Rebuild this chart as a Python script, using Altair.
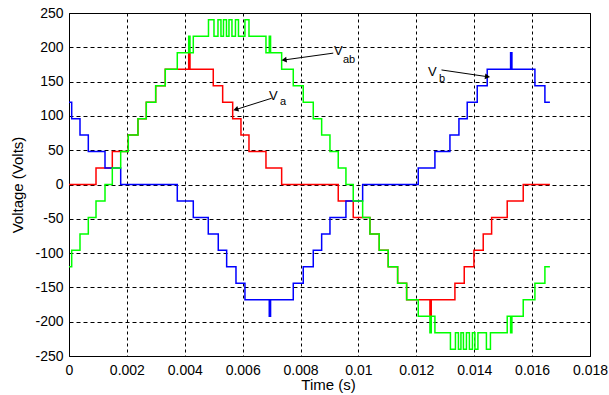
import altair as alt
import pandas as pd

# ---- Va (red) : step start times (s) and levels (V)
va_t = [0.0, 0.000933, 0.001496, 0.002048, 0.002383, 0.002670, 0.002995, 0.003326,
        0.004135, 0.004180, 0.004984, 0.005309, 0.005655, 0.005941, 0.006218, 0.006805,
        0.007347, 0.009302, 0.009820, 0.010397, 0.010718, 0.011029, 0.011354, 0.011665,
        0.012470, 0.012515, 0.013333, 0.013655, 0.013990, 0.014311, 0.014601, 0.015140,
        0.015693, 0.016615]
va_v = [0, 24, 48, 72, 96, 120, 144, 168,
        192, 168, 144, 120, 96, 72, 48, 24,
        0, -24, -48, -72, -96, -120, -144, -168,
        -192, -168, -144, -120, -96, -72, -48, -24,
        0, 0]

# ---- Vb (blue)
vb_t = [0.0, 0.000093, 0.000380, 0.000667, 0.001244, 0.001786, 0.003741, 0.004294,
        0.004812, 0.005157, 0.005447, 0.005769, 0.006079, 0.006919, 0.006964, 0.007748,
        0.008093, 0.008439, 0.008729, 0.009016, 0.009568, 0.010145, 0.012066, 0.012642,
        0.013161, 0.013472, 0.013758, 0.014104, 0.014449, 0.015257, 0.015302, 0.016097,
        0.016442, 0.016615]
vb_v = [120, 96, 72, 48, 24, 0, -24, -48,
        -72, -96, -120, -144, -168, -192, -168, -144,
        -120, -96, -72, -48, -24, 0, 24, 48,
        72, 96, 120, 144, 168, 192, 168, 144,
        120, 120]

# ---- Vab (green)
vab_t = [0.0, 0.000093, 0.000380, 0.000667, 0.000933, 0.001244, 0.001496, 0.001786,
         0.002048, 0.002383, 0.002670, 0.002995, 0.003326, 0.003741, 0.004135, 0.004180,
         0.004294, 0.004819, 0.005009, 0.005147, 0.005250, 0.005337, 0.005440, 0.005527,
         0.005630, 0.005751, 0.005855, 0.006079, 0.006218, 0.006805, 0.006919, 0.006964,
         0.007347, 0.007748, 0.008093, 0.008439, 0.008729, 0.009016, 0.009302, 0.009568,
         0.009820, 0.010145, 0.010397, 0.010718, 0.011029, 0.011354, 0.011665, 0.012066,
         0.012470, 0.012515, 0.012642, 0.013178, 0.013351, 0.013454, 0.013541, 0.013627,
         0.013731, 0.013834, 0.013938, 0.014024, 0.014128, 0.014421, 0.014560, 0.015140,
         0.015257, 0.015302, 0.015693, 0.016097, 0.016442, 0.016615]
vab_v = [-120, -96, -72, -48, -24, 0, 24, 48,
         72, 96, 120, 144, 168, 192, 216, 192,
         216, 240, 216, 240, 216, 240, 216, 240,
         216, 240, 216, 240, 216, 192, 216, 192,
         168, 144, 120, 96, 72, 48, 24, 0,
         -24, -48, -72, -96, -120, -144, -168, -192,
         -216, -192, -216, -240, -216, -240, -216, -240,
         -216, -240, -216, -240, -216, -240, -216, -192,
         -216, -192, -168, -144, -120, -120]

# ---- axis ticks
x_ticks = [0, 0.002, 0.004, 0.006, 0.008, 0.01, 0.012, 0.014, 0.016, 0.018]
y_ticks = [-250, -200, -150, -100, -50, 0, 50, 100, 150, 200, 250]

# ---- annotations (data coordinates)
lab_main = ["V", "V", "V"]
lab_sub = ["a", "ab", "b"]
lab_x = [0.00691, 0.009154, 0.0124]
lab_y = [123, 189, 158]
sub_x = [0.00729, 0.009465, 0.01278]
sub_y = [116, 177, 149]
arr_x1 = [0.0070, 0.00913, 0.01287]
arr_y1 = [125.7, 191.5, 167]
arr_x2 = [0.00579, 0.00746, 0.01443]
arr_y2 = [109.6, 181.7, 157.3]
arr_ang = [252, 262, 98]

FONT = "Liberation Sans"

# one table for all three waveforms
frames = []
for name, ts, vs in (("Va", va_t, va_v), ("Vb", vb_t, vb_v), ("Vab", vab_t, vab_v)):
    frames.append(pd.DataFrame({"t": ts, "v": vs, "s": name}))
wave = pd.concat(frames, ignore_index=True)

xs = alt.Scale(domain=[0, 0.018], nice=False, zero=False)
ys = alt.Scale(domain=[-250, 250], nice=False, zero=False)

x_axis = alt.Axis(values=x_ticks, format=".3~f", title="Time (s)", grid=True,
                  gridDash=[3, 3], gridColor="#000", gridOpacity=1, gridWidth=1,
                  ticks=False, domain=False, labelPadding=7,
                  labelOverlap=False, labelFlush=False,
                  labelFont=FONT, labelFontSize=14, labelColor="#000",
                  titleFont=FONT, titleFontSize=15, titleFontWeight="normal",
                  titleColor="#000", titleX=259, titleY=33,
                  titleBaseline="alphabetic", titleAlign="center")
y_axis = alt.Axis(values=y_ticks, format="d", labelExpr="replace(datum.label, '\u2212', '-')",
                  title="Voltage (Volts)",
                  grid=True, gridDash=[4, 3], gridColor="#000", gridOpacity=1, gridWidth=1,
                  ticks=False, domain=False, labelPadding=6,
                  labelOverlap=False, labelFlush=False, labelSeparation=0,
                  labelFont=FONT, labelFontSize=14, labelColor="#000",
                  titleFont=FONT, titleFontSize=15, titleFontWeight="normal",
                  titleColor="#000", titleX=-52, titleY=171.5, titleAngle=270,
                  titleAlign="center", titleBaseline="middle")

base = alt.Chart(wave).mark_line(interpolate="step-after", strokeWidth=1.5).encode(
    x=alt.X("t:Q", scale=xs, axis=x_axis),
    y=alt.Y("v:Q", scale=ys, axis=y_axis),
    color=alt.Color("s:N", scale=alt.Scale(domain=["Va", "Vb", "Vab"],
                                           range=["#ff0000", "#0000ff", "#00ff00"]),
                    legend=None),
    order=alt.Order("s:N"),
)
red = base.transform_filter(alt.datum.s == "Va")
blue = base.transform_filter(alt.datum.s == "Vb")
green = base.transform_filter(alt.datum.s == "Vab")

arr_df = pd.DataFrame({"t": arr_x1, "v": arr_y1, "t2": arr_x2, "v2": arr_y2,
                       "ang": arr_ang})
arrows = alt.Chart(arr_df).mark_rule(color="#000", strokeWidth=1).encode(
    x=alt.X("t:Q", scale=xs, axis=x_axis), y=alt.Y("v:Q", scale=ys, axis=y_axis),
    x2="t2:Q", y2="v2:Q")
heads = alt.Chart(arr_df).mark_point(shape="triangle", filled=True, color="#000",
                                     opacity=1, size=35).encode(
    x=alt.X("t2:Q", scale=xs, axis=x_axis), y=alt.Y("v2:Q", scale=ys, axis=y_axis),
    angle=alt.Angle("ang:Q", scale=None))

lab_df = pd.DataFrame({"t": lab_x, "v": lab_y, "txt": lab_main})
sub_df = pd.DataFrame({"t": sub_x, "v": sub_y, "txt": lab_sub})
labels = alt.Chart(lab_df).mark_text(font=FONT, fontSize=13, align="left",
                                     baseline="alphabetic", color="#000").encode(
    x=alt.X("t:Q", scale=xs, axis=x_axis), y=alt.Y("v:Q", scale=ys, axis=y_axis),
    text="txt:N")
subs = alt.Chart(sub_df).mark_text(font=FONT, fontSize=11, align="left",
                                   baseline="alphabetic", color="#000").encode(
    x=alt.X("t:Q", scale=xs, axis=x_axis), y=alt.Y("v:Q", scale=ys, axis=y_axis),
    text="txt:N")

chart = alt.layer(red, blue, green, arrows, heads, labels, subs).properties(
    width=521, height=343,
    autosize=alt.AutoSizeParams(type="none"),
    padding={"left": 69, "top": 13, "right": 19, "bottom": 39},
    background="white",
).configure_view(stroke="#000", strokeWidth=1
).configure_axis(labelOverlap=False, labelSeparation=0)

chart.save("out.html", embed_options={"renderer": "svg", "actions": False})
